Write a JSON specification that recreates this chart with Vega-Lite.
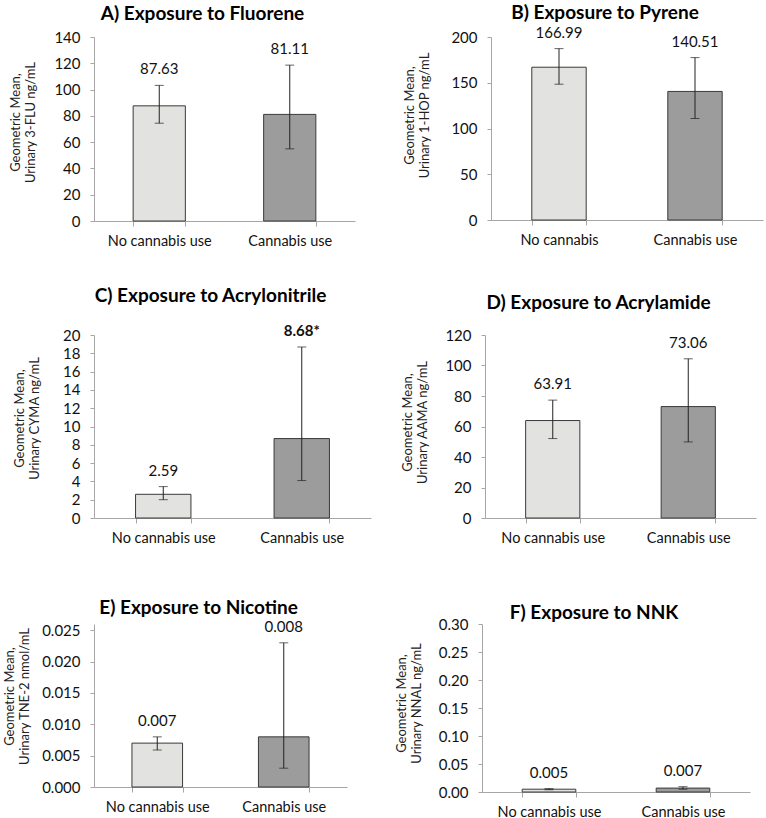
{
  "$schema": "https://vega.github.io/schema/vega-lite/v6.json",
  "padding": {"left": 3, "top": 3, "right": 2, "bottom": 2},
  "background": "white",
  "config": {
    "font": "Lato",
    "view": {"stroke": null},
    "title": {"font": "Lato", "fontSize": 19, "fontWeight": "bold", "color": "#000", "frame": "group", "dx": -22},
    "axis": {"labelFont": "Lato", "labelFontSize": 15, "labelColor": "#111", "titleFont": "Lato", "titleFontSize": 13, "titleFontWeight": "normal", "titleColor": "#222", "domainColor": "#a6a6a6", "tickColor": "#a6a6a6", "grid": false, "tickSize": 4, "labelOverlap": false},
    "axisY": {"labelPadding": 10, "titleLineHeight": 15},
    "axisX": {"tickBand": "extent", "labelPadding": 8, "labelAngle": 0, "tickSize": 5, "title": null, "labelFontSize": 14.5},
    "bar": {"stroke": "#3a3a3a", "strokeWidth": 1},
    "rule": {"color": "#222", "strokeWidth": 1},
    "tick": {"color": "#222", "size": 9, "thickness": 1},
    "text": {"font": "Lato", "fontSize": 15, "color": "#111", "dy": -16, "baseline": "middle"}
  },
  "vconcat": [
    {
      "hconcat": [
        {
          "width": 261, "height": 184,
          "title": {"text": "A) Exposure to Fluorene", "offset": 6},
          "data": {"values": [
            {"group": "No cannabis use", "cannabis": "no", "mean": 87.63, "lower": 74.4, "upper": 103.2, "label": "87.63", "bold": false},
            {"group": "Cannabis use", "cannabis": "yes", "mean": 81.11, "lower": 54.9, "upper": 118.6, "label": "81.11", "bold": false}
          ]},
          "encoding": {"x": {"field": "group", "type": "nominal", "sort": null, "scale": {"paddingInner": 0.6, "paddingOuter": 0.3}}},
          "layer": [
            {"mark": "bar", "encoding": {
              "y": {"field": "mean", "type": "quantitative", "scale": {"domain": [0, 140]}, "title": ["Geometric Mean,", "Urinary 3-FLU ng/mL"], "axis": {"values": [0, 20, 40, 60, 80, 100, 120, 140], "titlePadding": 16, "titleY": 85}},
              "fill": {"field": "cannabis", "type": "nominal", "scale": {"domain": ["no", "yes"], "range": ["#e2e2e0", "#9c9c9c"]}, "legend": null}}},
            {"mark": "rule", "encoding": {"y": {"field": "lower", "type": "quantitative", "title": ["Geometric Mean,", "Urinary 3-FLU ng/mL"], "axis": {"values": [0, 20, 40, 60, 80, 100, 120, 140], "titlePadding": 16, "titleY": 85}}, "y2": {"field": "upper"}}},
            {"mark": "tick", "encoding": {"y": {"field": "lower", "type": "quantitative", "title": ["Geometric Mean,", "Urinary 3-FLU ng/mL"], "axis": {"values": [0, 20, 40, 60, 80, 100, 120, 140], "titlePadding": 16, "titleY": 85}}}},
            {"mark": "tick", "encoding": {"y": {"field": "upper", "type": "quantitative", "title": ["Geometric Mean,", "Urinary 3-FLU ng/mL"], "axis": {"values": [0, 20, 40, 60, 80, 100, 120, 140], "titlePadding": 16, "titleY": 85}}}},
            {"mark": "text", "encoding": {"y": {"field": "upper", "type": "quantitative", "title": ["Geometric Mean,", "Urinary 3-FLU ng/mL"], "axis": {"values": [0, 20, 40, 60, 80, 100, 120, 140], "titlePadding": 16, "titleY": 85}}, "text": {"field": "label"}}}
          ]
        },
        {
          "width": 272, "height": 183,
          "title": {"text": "B) Exposure to Pyrene", "offset": 3},
          "data": {"values": [
            {"group": "No cannabis", "cannabis": "no", "mean": 166.99, "lower": 148.4, "upper": 187.3, "label": "166.99", "bold": false},
            {"group": "Cannabis use", "cannabis": "yes", "mean": 140.51, "lower": 110.9, "upper": 177.5, "label": "140.51", "bold": false}
          ]},
          "encoding": {"x": {"field": "group", "type": "nominal", "sort": null, "scale": {"paddingInner": 0.6, "paddingOuter": 0.3}}},
          "layer": [
            {"mark": "bar", "encoding": {
              "y": {"field": "mean", "type": "quantitative", "scale": {"domain": [0, 200]}, "title": ["Geometric Mean,", "Urinary 1-HOP ng/mL"], "axis": {"values": [0, 50, 100, 150, 200], "titlePadding": 19, "titleY": 78}},
              "fill": {"field": "cannabis", "type": "nominal", "scale": {"domain": ["no", "yes"], "range": ["#e2e2e0", "#9c9c9c"]}, "legend": null}}},
            {"mark": "rule", "encoding": {"y": {"field": "lower", "type": "quantitative", "title": ["Geometric Mean,", "Urinary 1-HOP ng/mL"], "axis": {"values": [0, 50, 100, 150, 200], "titlePadding": 19, "titleY": 78}}, "y2": {"field": "upper"}}},
            {"mark": "tick", "encoding": {"y": {"field": "lower", "type": "quantitative", "title": ["Geometric Mean,", "Urinary 1-HOP ng/mL"], "axis": {"values": [0, 50, 100, 150, 200], "titlePadding": 19, "titleY": 78}}}},
            {"mark": "tick", "encoding": {"y": {"field": "upper", "type": "quantitative", "title": ["Geometric Mean,", "Urinary 1-HOP ng/mL"], "axis": {"values": [0, 50, 100, 150, 200], "titlePadding": 19, "titleY": 78}}}},
            {"mark": "text", "encoding": {"y": {"field": "upper", "type": "quantitative", "title": ["Geometric Mean,", "Urinary 1-HOP ng/mL"], "axis": {"values": [0, 50, 100, 150, 200], "titlePadding": 19, "titleY": 78}}, "text": {"field": "label"}}}
          ]
        }
      ],
      "spacing": 48
    },
    {
      "vconcat": [
        {
          "hconcat": [
            {
              "width": 277, "height": 183,
              "title": {"text": "C) Exposure to Acrylonitrile", "offset": 18},
              "data": {"values": [
                {"group": "No cannabis use", "cannabis": "no", "mean": 2.59, "lower": 2.0, "upper": 3.43, "label": "2.59", "bold": false},
                {"group": "Cannabis use", "cannabis": "yes", "mean": 8.68, "lower": 4.09, "upper": 18.69, "label": "8.68*", "bold": true}
              ]},
              "encoding": {"x": {"field": "group", "type": "nominal", "sort": null, "scale": {"paddingInner": 0.6, "paddingOuter": 0.3}}},
              "layer": [
                {"mark": "bar", "encoding": {
                  "y": {"field": "mean", "type": "quantitative", "scale": {"domain": [0, 20]}, "title": ["Geometric Mean,", "Urinary CYMA ng/mL"], "axis": {"values": [0, 2, 4, 6, 8, 10, 12, 14, 16, 18, 20], "titlePadding": 21, "titleY": 83}},
                  "fill": {"field": "cannabis", "type": "nominal", "scale": {"domain": ["no", "yes"], "range": ["#e2e2e0", "#9c9c9c"]}, "legend": null}}},
                {"mark": "rule", "encoding": {"y": {"field": "lower", "type": "quantitative", "title": ["Geometric Mean,", "Urinary CYMA ng/mL"], "axis": {"values": [0, 2, 4, 6, 8, 10, 12, 14, 16, 18, 20], "titlePadding": 21, "titleY": 83}}, "y2": {"field": "upper"}}},
                {"mark": "tick", "encoding": {"y": {"field": "lower", "type": "quantitative", "title": ["Geometric Mean,", "Urinary CYMA ng/mL"], "axis": {"values": [0, 2, 4, 6, 8, 10, 12, 14, 16, 18, 20], "titlePadding": 21, "titleY": 83}}}},
                {"mark": "tick", "encoding": {"y": {"field": "upper", "type": "quantitative", "title": ["Geometric Mean,", "Urinary CYMA ng/mL"], "axis": {"values": [0, 2, 4, 6, 8, 10, 12, 14, 16, 18, 20], "titlePadding": 21, "titleY": 83}}}},
                {"transform": [{"filter": "!datum.bold"}], "mark": "text", "encoding": {"y": {"field": "upper", "type": "quantitative", "title": ["Geometric Mean,", "Urinary CYMA ng/mL"], "axis": {"values": [0, 2, 4, 6, 8, 10, 12, 14, 16, 18, 20], "titlePadding": 21, "titleY": 83}}, "text": {"field": "label"}}},
                {"transform": [{"filter": "datum.bold"}], "mark": {"type": "text", "fontWeight": "bold"}, "encoding": {"y": {"field": "upper", "type": "quantitative", "title": ["Geometric Mean,", "Urinary CYMA ng/mL"], "axis": {"values": [0, 2, 4, 6, 8, 10, 12, 14, 16, 18, 20], "titlePadding": 21, "titleY": 83}}, "text": {"field": "label"}}}
              ]
            },
            {
              "width": 271, "height": 183,
              "title": {"text": "D) Exposure to Acrylamide", "offset": 15},
              "data": {"values": [
                {"group": "No cannabis use", "cannabis": "no", "mean": 63.91, "lower": 52.1, "upper": 77.3, "label": "63.91", "bold": false},
                {"group": "Cannabis use", "cannabis": "yes", "mean": 73.06, "lower": 49.9, "upper": 104.4, "label": "73.06", "bold": false}
              ]},
              "encoding": {"x": {"field": "group", "type": "nominal", "sort": null, "scale": {"paddingInner": 0.6, "paddingOuter": 0.3}}},
              "layer": [
                {"mark": "bar", "encoding": {
                  "y": {"field": "mean", "type": "quantitative", "scale": {"domain": [0, 120]}, "title": ["Geometric Mean,", "Urinary AAMA ng/mL"], "axis": {"values": [0, 20, 40, 60, 80, 100, 120], "titlePadding": 15, "titleY": 87}},
                  "fill": {"field": "cannabis", "type": "nominal", "scale": {"domain": ["no", "yes"], "range": ["#e2e2e0", "#9c9c9c"]}, "legend": null}}},
                {"mark": "rule", "encoding": {"y": {"field": "lower", "type": "quantitative", "title": ["Geometric Mean,", "Urinary AAMA ng/mL"], "axis": {"values": [0, 20, 40, 60, 80, 100, 120], "titlePadding": 15, "titleY": 87}}, "y2": {"field": "upper"}}},
                {"mark": "tick", "encoding": {"y": {"field": "lower", "type": "quantitative", "title": ["Geometric Mean,", "Urinary AAMA ng/mL"], "axis": {"values": [0, 20, 40, 60, 80, 100, 120], "titlePadding": 15, "titleY": 87}}}},
                {"mark": "tick", "encoding": {"y": {"field": "upper", "type": "quantitative", "title": ["Geometric Mean,", "Urinary AAMA ng/mL"], "axis": {"values": [0, 20, 40, 60, 80, 100, 120], "titlePadding": 15, "titleY": 87}}}},
                {"mark": "text", "encoding": {"y": {"field": "upper", "type": "quantitative", "title": ["Geometric Mean,", "Urinary AAMA ng/mL"], "axis": {"values": [0, 20, 40, 60, 80, 100, 120], "titlePadding": 15, "titleY": 87}}, "text": {"field": "label"}}}
              ]
            }
          ],
          "spacing": 30
        },
        {
          "hconcat": [
            {
              "width": 253, "height": 163,
              "title": {"text": "E) Exposure to Nicotine", "offset": 2},
              "data": {"values": [
                {"group": "No cannabis use", "cannabis": "no", "mean": 0.007, "lower": 0.0059, "upper": 0.008, "label": "0.007", "bold": false},
                {"group": "Cannabis use", "cannabis": "yes", "mean": 0.008, "lower": 0.003, "upper": 0.023, "label": "0.008", "bold": false}
              ]},
              "encoding": {"x": {"field": "group", "type": "nominal", "sort": null, "scale": {"paddingInner": 0.6, "paddingOuter": 0.3}}},
              "layer": [
                {"mark": "bar", "encoding": {
                  "y": {"field": "mean", "type": "quantitative", "scale": {"domain": [0, 0.025]}, "title": ["Geometric Mean,", "Urinary TNE-2 nmol/mL"], "axis": {"values": [0, 0.005, 0.01, 0.015, 0.02, 0.025], "format": ".3f", "titlePadding": 10, "titleY": 72}},
                  "fill": {"field": "cannabis", "type": "nominal", "scale": {"domain": ["no", "yes"], "range": ["#e2e2e0", "#9c9c9c"]}, "legend": null}}},
                {"mark": "rule", "encoding": {"y": {"field": "lower", "type": "quantitative", "title": ["Geometric Mean,", "Urinary TNE-2 nmol/mL"], "axis": {"values": [0, 0.005, 0.01, 0.015, 0.02, 0.025], "format": ".3f", "titlePadding": 10, "titleY": 72}}, "y2": {"field": "upper"}}},
                {"mark": "tick", "encoding": {"y": {"field": "lower", "type": "quantitative", "title": ["Geometric Mean,", "Urinary TNE-2 nmol/mL"], "axis": {"values": [0, 0.005, 0.01, 0.015, 0.02, 0.025], "format": ".3f", "titlePadding": 10, "titleY": 72}}}},
                {"mark": "tick", "encoding": {"y": {"field": "upper", "type": "quantitative", "title": ["Geometric Mean,", "Urinary TNE-2 nmol/mL"], "axis": {"values": [0, 0.005, 0.01, 0.015, 0.02, 0.025], "format": ".3f", "titlePadding": 10, "titleY": 72}}}},
                {"mark": "text", "encoding": {"y": {"field": "upper", "type": "quantitative", "title": ["Geometric Mean,", "Urinary TNE-2 nmol/mL"], "axis": {"values": [0, 0.005, 0.01, 0.015, 0.02, 0.025], "format": ".3f", "titlePadding": 10, "titleY": 72}}, "text": {"field": "label"}}}
              ]
            },
            {
              "width": 268, "height": 168,
              "title": {"text": "F) Exposure to NNK", "offset": -6},
              "data": {"values": [
                {"group": "No cannabis use", "cannabis": "no", "mean": 0.005, "lower": 0.004, "upper": 0.006, "label": "0.005", "bold": false},
                {"group": "Cannabis use", "cannabis": "yes", "mean": 0.007, "lower": 0.005, "upper": 0.0095, "label": "0.007", "bold": false}
              ]},
              "encoding": {"x": {"field": "group", "type": "nominal", "sort": null, "scale": {"paddingInner": 0.6, "paddingOuter": 0.3}}},
              "layer": [
                {"mark": "bar", "encoding": {
                  "y": {"field": "mean", "type": "quantitative", "scale": {"domain": [0, 0.3]}, "title": ["Geometric Mean,", "Urinary NNAL ng/mL"], "axis": {"values": [0, 0.05, 0.1, 0.15, 0.2, 0.25, 0.3], "format": ".2f", "titlePadding": 15, "titleY": 79}},
                  "fill": {"field": "cannabis", "type": "nominal", "scale": {"domain": ["no", "yes"], "range": ["#e2e2e0", "#9c9c9c"]}, "legend": null}}},
                {"mark": "rule", "encoding": {"y": {"field": "lower", "type": "quantitative", "title": ["Geometric Mean,", "Urinary NNAL ng/mL"], "axis": {"values": [0, 0.05, 0.1, 0.15, 0.2, 0.25, 0.3], "format": ".2f", "titlePadding": 15, "titleY": 79}}, "y2": {"field": "upper"}}},
                {"mark": "tick", "encoding": {"y": {"field": "lower", "type": "quantitative", "title": ["Geometric Mean,", "Urinary NNAL ng/mL"], "axis": {"values": [0, 0.05, 0.1, 0.15, 0.2, 0.25, 0.3], "format": ".2f", "titlePadding": 15, "titleY": 79}}}},
                {"mark": "tick", "encoding": {"y": {"field": "upper", "type": "quantitative", "title": ["Geometric Mean,", "Urinary NNAL ng/mL"], "axis": {"values": [0, 0.05, 0.1, 0.15, 0.2, 0.25, 0.3], "format": ".2f", "titlePadding": 15, "titleY": 79}}}},
                {"mark": "text", "encoding": {"y": {"field": "upper", "type": "quantitative", "title": ["Geometric Mean,", "Urinary NNAL ng/mL"], "axis": {"values": [0, 0.05, 0.1, 0.15, 0.2, 0.25, 0.3], "format": ".2f", "titlePadding": 15, "titleY": 79}}, "text": {"field": "label"}}}
              ]
            }
          ],
          "spacing": 48
        }
      ],
      "spacing": 53
    }
  ],
  "spacing": 38
}
